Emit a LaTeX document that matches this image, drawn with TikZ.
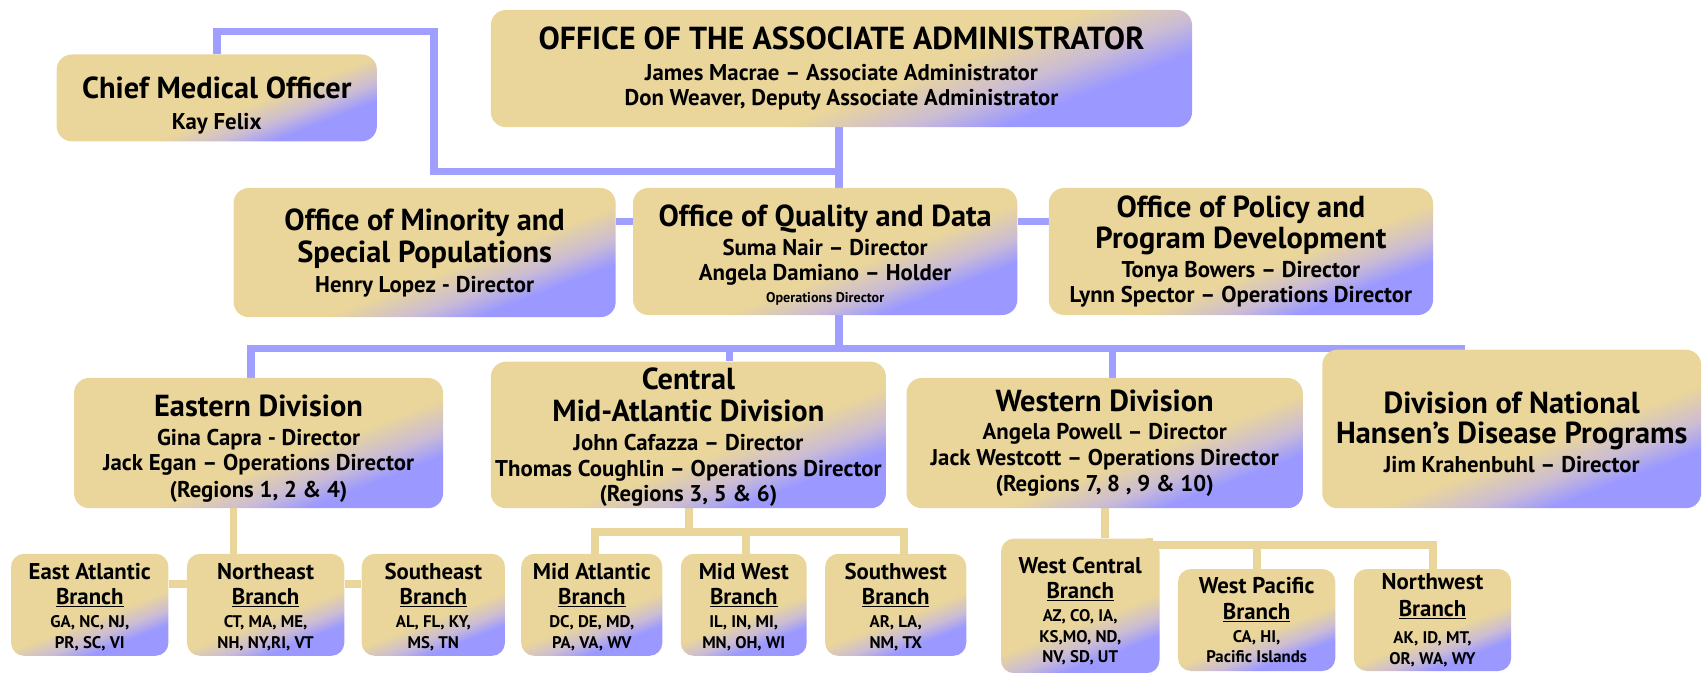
\documentclass[tikz,border=0pt]{standalone}
\usepackage{fontspec}
\setmainfont{PT Sans}
\usetikzlibrary{backgrounds}
\definecolor{tn}{RGB}{234,214,154}
\definecolor{bl}{RGB}{155,153,255}
\definecolor{lav}{RGB}{203,188,212}
\definecolor{lineblue}{RGB}{160,158,255}
\pgfdeclareverticalshading{boxshade}{100bp}{color(0bp)=(bl); color(30bp)=(bl); color(36bp)=(lav); color(44bp)=(tn); color(100bp)=(tn)}
\newcommand\TitF{\fontsize{28}{30}\selectfont\bfseries}
\newcommand\NameF{\fontsize{21}{23}\selectfont\bfseries\lineskiplimit=-100pt\lineskip=0pt}
\newcommand\BrTF{\fontsize{21}{25}\selectfont\bfseries}
\newcommand\StF{\fontsize{15.5}{19}\selectfont\bfseries\lineskiplimit=-100pt\lineskip=0pt}
\newcommand\SmallF{\fontsize{13}{16}\selectfont\bfseries}
\newcommand\TopPad[1]{\rule{0pt}{#1}}
\begin{document}
\begin{tikzpicture}[x=1pt,y=-1pt,
  box/.style={shade, shading=boxshade, shading angle=21, rounded corners=14pt, inner sep=0pt,
    anchor=north west, align=center, font=\NameF, text=black},
  brbox/.style={box, rounded corners=12pt, font=\StF},
  bline/.style={line width=7pt, draw=lineblue},
  tline/.style={line width=7pt, draw=tn}]
\useasboundingbox (0,0) rectangle (1568,620);
% top
\node[box, minimum width=295pt, minimum height=80pt] (cmo) at (52,50)
  {\TopPad{34pt}{\TitF Chief Medical Officer}\\[6pt]Kay Felix};
\node[box, minimum width=646pt, minimum height=108pt] (oaa) at (452,9)
  {{\fontsize{29.3}{30}\selectfont\bfseries OFFICE OF THE ASSOCIATE ADMINISTRATOR}\\[5pt]James Macrae – Associate Administrator\\Don Weaver, Deputy Associate Administrator};
% middle
\node[box, minimum width=352pt, minimum height=119pt] (oms) at (215,173)
  {{\TitF Office of Minority and}\\[7pt]{\TitF Special Populations}\\[4pt]Henry Lopez - Director};
\node[box, minimum width=354pt, minimum height=117pt] (oqd) at (583,173)
  {\TopPad{26pt}{\TitF Office of Quality and Data}\\[4pt]Suma Nair – Director\\Angela Damiano – Holder\\[-3pt]{\SmallF Operations Director}};
\node[box, minimum width=354pt, minimum height=117pt] (oppd) at (966,173)
  {{\TitF Office of Policy and}\\[6pt]{\TitF Program Development}\\[4pt]Tonya Bowers – Director\\Lynn Spector – Operations Director};
% divisions
\node[box, minimum width=340pt, minimum height=120pt] (ed) at (68,348)
  {\TopPad{30pt}{\TitF Eastern Division}\\[4pt]Gina Capra - Director\\Jack Egan – Operations Director\\[2pt](Regions 1, 2 \& 4)};
\node[box, minimum width=364pt, minimum height=135pt] (cmad) at (452,333)
  {\TopPad{24pt}{\TitF Central}\\[6pt]{\TitF Mid-Atlantic Division}\\[4pt]John Cafazza – Director\\[1pt]Thomas Coughlin – Operations Director\\(Regions 3, 5 \& 6)};
\node[box, minimum width=365pt, minimum height=120pt] (wd) at (835,348)
  {{\TitF Western Division}\\[3pt]Angela Powell – Director\\[1pt]Jack Westcott – Operations Director\\[1pt](Regions 7, 8 , 9 \& 10)};
\node[box, minimum width=349pt, minimum height=146pt] (hd) at (1218,322)
  {\TopPad{26pt}{\TitF Division of National}\\[5pt]{\TitF Hansen’s Disease Programs}\\[4pt]Jim Krahenbuhl – Director};
% branches
\node[brbox, minimum width=145pt, minimum height=94pt] (eab) at (10,510)
  {\TopPad{19pt}{\BrTF East Atlantic}\\[4pt]{\BrTF\underline{Branch}}\\[2pt]GA, NC, NJ,\\PR, SC, VI};
\node[brbox, minimum width=145pt, minimum height=94pt] (neb) at (172,510)
  {\TopPad{19pt}{\BrTF Northeast}\\[4pt]{\BrTF\underline{Branch}}\\[2pt]CT, MA, ME,\\NH, NY,RI, VT};
\node[brbox, minimum width=132pt, minimum height=94pt] (seb) at (333,510)
  {\TopPad{19pt}{\BrTF Southeast}\\[4pt]{\BrTF\underline{Branch}}\\[2pt]AL, FL, KY,\\MS, TN};
\node[brbox, minimum width=130pt, minimum height=94pt] (mab) at (480,510)
  {\TopPad{19pt}{\BrTF Mid Atlantic}\\[4pt]{\BrTF\underline{Branch}}\\[2pt]DC, DE, MD,\\PA, VA, WV};
\node[brbox, minimum width=116pt, minimum height=94pt] (mwb) at (627,510)
  {\TopPad{19pt}{\BrTF Mid West}\\[4pt]{\BrTF\underline{Branch}}\\[2pt]IL, IN, MI,\\MN, OH, WI};
\node[brbox, minimum width=130pt, minimum height=94pt] (swb) at (760,510)
  {\TopPad{19pt}{\BrTF Southwest}\\[4pt]{\BrTF\underline{Branch}}\\[2pt]AR, LA,\\NM, TX};
\node[brbox, minimum width=146pt, minimum height=124pt] (wcb) at (922,496)
  {\TopPad{25pt}{\BrTF West Central}\\[4pt]{\BrTF\underline{Branch}}\\[2pt]AZ, CO, IA,\\KS,MO, ND,\\NV, SD, UT};
\node[brbox, minimum width=145pt, minimum height=94pt] (wpb) at (1085,524)
  {{\BrTF West Pacific}\\[5pt]{\BrTF\underline{Branch}}\\[2pt]CA, HI,\\Pacific Islands};
\node[brbox, minimum width=145pt, minimum height=94pt] (nwb) at (1247,524)
  {{\BrTF Northwest}\\[6pt]{\BrTF\underline{Branch}}\\[6pt]AK, ID, MT,\\OR, WA, WY};
% connectors
\begin{scope}[on background layer]
\coordinate (k1) at (200,29);
\coordinate (k2) at (400,158);
\coordinate (mx) at (773,0);
\draw[bline] (cmo.north -| k1) -- (k1) -- (k1 -| k2) -- (k2) -- (k2 -| mx);
\draw[bline] (oaa.south -| mx) -- (oqd.north -| mx);
\coordinate (hy) at (0,204);
\draw[bline] (oms.east |- hy) -- (oqd.west |- hy);
\draw[bline] (oqd.east |- hy) -- (oppd.west |- hy);
\coordinate (by) at (0,321);
\coordinate (bx1) at (231,321);
\coordinate (bx2) at (1346,320);
\coordinate (cx) at (672,0);
\coordinate (wx) at (1025,0);
\draw[bline] (oqd.south -| mx) -- (mx |- by);
\draw[bline] (ed.north -| bx1) -- (bx1) -- (bx1 -| bx2) -- (hd.north -| bx2);
\draw[bline] (cx |- by) -- (cmad.north -| cx);
\draw[bline] (wx |- by) -- (wd.north -| wx);
% tan
\coordinate (ex) at (215,0);
\coordinate (ey) at (0,538);
\draw[tline] (ed.south -| ex) -- (neb.north -| ex);
\draw[tline] (eab.east |- ey) -- (neb.west |- ey);
\draw[tline] (neb.east |- ey) -- (seb.west |- ey);
\coordinate (c0) at (635,490);
\coordinate (d1) at (548,490);
\coordinate (d2) at (687,490);
\coordinate (d3) at (833,490);
\draw[tline] (cmad.south -| c0) -- (c0);
\draw[tline] (mab.north -| d1) -- (d1) -- (d3) -- (swb.north -| d3);
\draw[tline] (d2) -- (mwb.north -| d2);
\coordinate (w0) at (1018,0);
\coordinate (wy) at (1059,502);
\coordinate (w2) at (1158,502);
\coordinate (w3) at (1320,502);
\draw[tline] (wd.south -| w0) -- (wcb.north -| w0);
\draw[tline] (wcb.north -| wy) -- (wy) -- (w3) -- (nwb.north -| w3);
\draw[tline] (w2) -- (wpb.north -| w2);
\end{scope}
\end{tikzpicture}
\end{document}
